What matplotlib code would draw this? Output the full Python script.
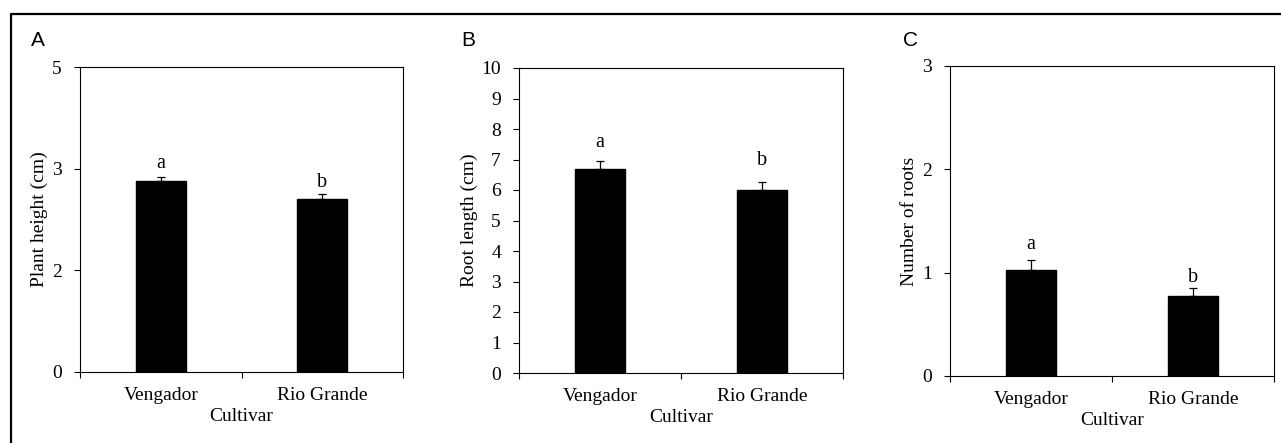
import matplotlib
matplotlib.use("Agg")
import matplotlib.pyplot as plt
import numpy as np
from matplotlib.lines import Line2D

# Données
cultivars = ["Vengador", "Rio Grande"]

plant_height = [2.88, 2.70]
plant_height_err = [0.04, 0.05]
plant_height_letters = ["a", "b"]
plant_height_letter_y = [3.10, 2.86]
plant_height_ticks = [0, 2, 3, 5]

root_length = [6.70, 6.00]
root_length_err = [0.25, 0.25]
root_length_letters = ["a", "b"]
root_length_letter_y = [7.57, 6.98]

n_roots = [1.03, 0.775]
n_roots_err = [0.09, 0.08]
n_roots_letters = ["a", "b"]
n_roots_letter_y = [1.27, 0.95]

plt.rcParams['font.family'] = ['Liberation Serif', 'DejaVu Serif']
plt.rcParams['font.size'] = 14

fig = plt.figure(figsize=(12.81, 4.43), dpi=100)

# cadre autour de la figure (haut et gauche seulement, le reste est rogné)
fig.add_artist(Line2D([11/1281, 11/1281, 1.0], [0.0, 1 - 13.5/443, 1 - 13.5/443],
                      color='black', lw=1.6, transform=fig.transFigure))

axes_pos = [
    [80/1281, 1 - 372/443, 323/1281, 305/443],
    [519/1281, 1 - 373/443, 324/1281, 305/443],
    [950/1281, 1 - 376/443, 324/1281, 310/443],
]
panel_pos = [(31/1281, 1 - 40/443), (461/1281, 1 - 40/443), (903/1281, 1 - 40/443)]

values = [plant_height, root_length, n_roots]
errors = [plant_height_err, root_length_err, n_roots_err]
letters = [plant_height_letters, root_length_letters, n_roots_letters]
letter_y = [plant_height_letter_y, root_length_letter_y, n_roots_letter_y]
ylabels = ["Plant height (cm)", "Root length (cm)", "Number of roots"]
panels = ["A", "B", "C"]

x = np.arange(len(cultivars)) + 0.5

for i in range(3):
    ax = fig.add_axes(axes_pos[i])
    if i == 0:
        # axe d'origine : graduations régulièrement espacées mais étiquetées 0, 2, 3, 5
        pos = np.arange(len(plant_height_ticks))
        ax.set_yscale('function', functions=(
            lambda v: np.interp(v, plant_height_ticks, pos),
            lambda p: np.interp(p, pos, plant_height_ticks)))
        ax.set_ylim(0, 5)
        ax.set_yticks(plant_height_ticks)
        ax.set_yticklabels([str(t) for t in plant_height_ticks])
    elif i == 1:
        ax.set_ylim(0, 10)
        ax.set_yticks(range(0, 11))
    else:
        ax.set_ylim(0, 3)
        ax.set_yticks(range(0, 4))

    ax.bar(x, values[i], width=0.31, color='black', edgecolor='black')
    ax.errorbar(x, values[i], yerr=[np.zeros(2), errors[i]], fmt='none',
                ecolor='black', elinewidth=0.9, capsize=3, capthick=0.9)
    for xi, lt, ly in zip(x, letters[i], letter_y[i]):
        ax.text(xi, ly, lt, ha='center', va='center', fontsize=14.5)

    ax.set_xlim(0, 2)
    ax.set_xticks([0, 1, 2])
    ax.set_xticklabels([])
    ax.set_xticks(x, minor=True)
    ax.set_xticklabels(cultivars, minor=True)
    ax.tick_params(axis='x', which='minor', length=0, pad=11)
    ax.tick_params(axis='both', which='major', direction='out', length=4, width=0.8)
    ax.tick_params(axis='y', pad=9)
    ax.set_xlabel("Cultivar", labelpad=3)
    ax.set_ylabel(ylabels[i], labelpad=2.7)
    for s in ax.spines.values():
        s.set_linewidth(0.8)

    fig.text(panel_pos[i][0], panel_pos[i][1], panels[i], family='Liberation Sans',
             fontsize=15, ha='left', va='center')

fig.savefig("out.png", dpi=100)
